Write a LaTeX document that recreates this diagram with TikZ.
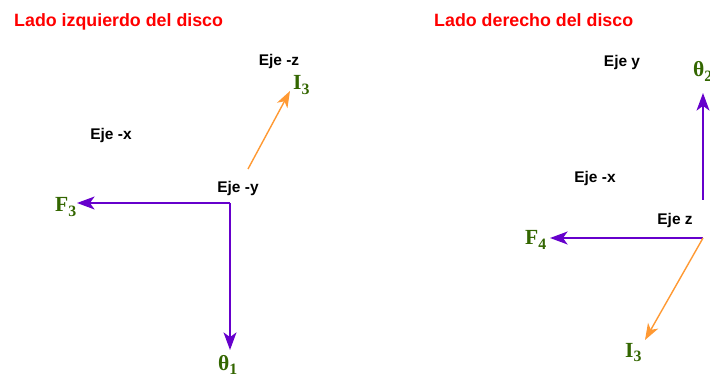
\documentclass[tikz,border=0pt]{standalone}
\usepackage{fontspec}
\setmainfont{Liberation Serif}
\setsansfont{Liberation Sans}
\usetikzlibrary{arrows.meta, positioning, calc}
\definecolor{vecpurple} {RGB}{102, 0,   204}
\definecolor{vecorange} {RGB}{255, 153,  51}
\definecolor{labgreen}  {RGB}{51,  102,   0}
\definecolor{titlered}  {RGB}{255, 0,     0}
\newcommand{\lowsub}[1]{\raisebox{-4pt}{\fontsize{13.5}{13.5}\selectfont #1}}
\tikzset{
	vecp/.style={line width=1.7pt, vecpurple, -{Stealth[length=15pt,width=11pt,inset=4pt]}},
	veco/.style={line width=1.2pt, vecorange, -{Stealth[length=14pt,width=10pt,inset=4pt]}},
	ejelabel/.style={inner sep=0pt, font=\sffamily\bfseries\fontsize{13.2}{14}\selectfont},
	veclabel/.style={inner sep=0pt, anchor=base west, labgreen, font=\bfseries\fontsize{18.4}{20}\selectfont},
	sidetitle/.style={inner sep=0pt, anchor=base west, titlered, font=\sffamily\bfseries\fontsize{15.2}{17}\selectfont}
}
\begin{document}
\begin{tikzpicture}[x=0.03cm, y=-0.03cm]
	\useasboundingbox (0,0) rectangle (710,377);
	% lado izquierdo
	\node[sidetitle] (titleL) at (14,27) {Lado izquierdo del disco};
	\coordinate (oL) at (230,203); \coordinate (f3) at (77,203); \coordinate (t1) at (230,350);
	\coordinate (i3s) at (248,169); \coordinate (i3) at (290,91);
	\draw[vecp] (oL) -- (f3); \draw[vecp] (oL) -- (t1);
	\draw[veco] (i3s) -- (i3);
	\node[ejelabel] (ejeLz) at (279,62) {Eje -z};
	\node[ejelabel] (ejeLx) at (111,136) {Eje -x};
	\node[ejelabel] (ejeLy) at (238,189) {Eje -y};
	\node[veclabel] (labI3L) at (293,90) {I\lowsub{3}};
	\node[veclabel] (labF3) at (55,212) {F\lowsub{3}};
	\node[veclabel] (labT1) at (218,370) {θ\lowsub{1}};
	% lado derecho
	\node[sidetitle] (titleR) at (434,27) {Lado derecho del disco};
	\coordinate (oR) at (703,238); \coordinate (f4) at (550,238);
	\coordinate (t2s) at (703,200); \coordinate (t2) at (703,93); \coordinate (i3r) at (645,340);
	\draw[vecp] (oR) -- (f4); \draw[vecp] (t2s) -- (t2);
	\draw[veco] (oR) -- (i3r);
	\node[ejelabel] (ejeRy) at (622,63) {Eje y};
	\node[ejelabel] (ejeRx) at (595,179) {Eje -x};
	\node[ejelabel] (ejeRz) at (675,221) {Eje z};
	\node[veclabel] (labT2) at (693,77) {θ\lowsub{2}};
	\node[veclabel] (labF4) at (525,245) {F\lowsub{4}};
	\node[veclabel] (labI3R) at (625,357) {I\lowsub{3}};
\end{tikzpicture}
\end{document}
